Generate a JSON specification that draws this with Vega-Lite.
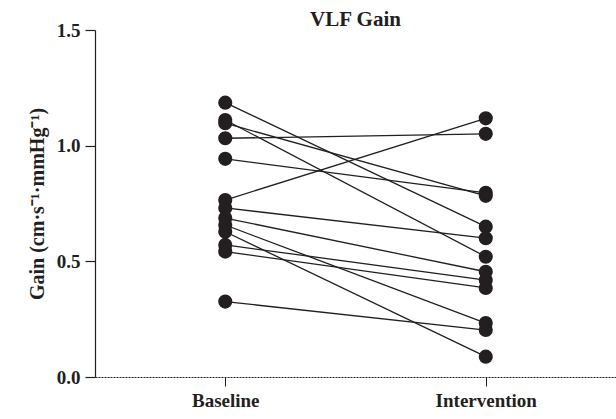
{
  "$schema": "https://vega.github.io/schema/vega-lite/v6.json",
  "autosize": {"type": "none"},
  "padding": {"left": 95, "top": 30, "right": 0, "bottom": 42},
  "width": 521,
  "height": 347,
  "background": "white",
  "title": {"text": "VLF Gain", "font": "Liberation Serif", "fontSize": 21, "fontWeight": "bold", "color": "#231f20", "anchor": "middle", "offset": -9},
  "config": {"view": {"stroke": null}},
  "data": {"values": [
    {"id": 1, "time": "Baseline", "gain": 1.186}, {"id": 1, "time": "Intervention", "gain": 0.650},
    {"id": 2, "time": "Baseline", "gain": 1.111}, {"id": 2, "time": "Intervention", "gain": 0.520},
    {"id": 3, "time": "Baseline", "gain": 1.097}, {"id": 3, "time": "Intervention", "gain": 0.783},
    {"id": 4, "time": "Baseline", "gain": 1.032}, {"id": 4, "time": "Intervention", "gain": 1.051},
    {"id": 5, "time": "Baseline", "gain": 0.943}, {"id": 5, "time": "Intervention", "gain": 0.796},
    {"id": 6, "time": "Baseline", "gain": 0.765}, {"id": 6, "time": "Intervention", "gain": 1.118},
    {"id": 7, "time": "Baseline", "gain": 0.731}, {"id": 7, "time": "Intervention", "gain": 0.600},
    {"id": 8, "time": "Baseline", "gain": 0.687}, {"id": 8, "time": "Intervention", "gain": 0.455},
    {"id": 9, "time": "Baseline", "gain": 0.657}, {"id": 9, "time": "Intervention", "gain": 0.233},
    {"id": 10, "time": "Baseline", "gain": 0.628}, {"id": 10, "time": "Intervention", "gain": 0.088},
    {"id": 11, "time": "Baseline", "gain": 0.571}, {"id": 11, "time": "Intervention", "gain": 0.419},
    {"id": 12, "time": "Baseline", "gain": 0.542}, {"id": 12, "time": "Intervention", "gain": 0.385},
    {"id": 13, "time": "Baseline", "gain": 0.326}, {"id": 13, "time": "Intervention", "gain": 0.203}
  ]},
  "encoding": {
    "x": {"field": "time", "type": "ordinal", "sort": ["Baseline", "Intervention"],
      "scale": {"type": "point", "padding": 0.5},
      "axis": {"title": null, "labelAngle": 0, "labelFont": "Liberation Serif", "labelFontSize": 19, "labelFontWeight": "bold", "labelColor": "#231f20",
        "domainColor": "#231f20", "domainDash": [2, 1], "domainWidth": 1, "tickColor": "#231f20", "tickSize": 9, "tickWidth": 1, "labelPadding": 5, "grid": false}},
    "y": {"field": "gain", "type": "quantitative",
      "scale": {"domain": [0, 1.5], "nice": false, "zero": true},
      "axis": {"title": "Gain (cm·s⁻¹·mmHg⁻¹)", "values": [0, 0.5, 1.0, 1.5], "format": ".1f",
        "titleFont": "Liberation Serif", "titleFontSize": 20, "titleFontWeight": "bold", "titleColor": "#231f20", "titlePadding": 9,
        "labelFont": "Liberation Serif", "labelFontSize": 19, "labelFontWeight": "bold", "labelColor": "#231f20", "labelPadding": 5,
        "domainColor": "#231f20", "domainWidth": 1.2, "tickColor": "#231f20", "tickSize": 10, "tickWidth": 1.2, "grid": false}}
  },
  "layer": [
    {"mark": {"type": "line", "color": "#231f20", "strokeWidth": 1.3}, "encoding": {"detail": {"field": "id"}}},
    {"mark": {"type": "circle", "color": "#231f20", "opacity": 1, "size": 200}}
  ]
}
